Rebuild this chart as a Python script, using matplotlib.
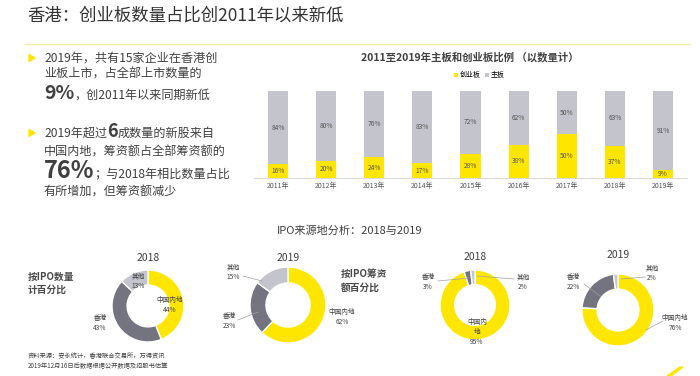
import matplotlib
matplotlib.use("Agg")
import matplotlib.pyplot as plt
from matplotlib.patches import Polygon
import numpy as np

plt.rcParams['font.family'] = ['Noto Sans CJK SC', 'DejaVu Sans']

W, H = 700, 376
YELLOW = "#FFE600"
LGRAY = "#C4C4CD"
DGRAY = "#747480"
TXT = "#333333"

# bar chart data
years = ["2011年", "2012年", "2013年", "2014年", "2015年", "2016年", "2017年", "2018年", "2019年"]
gem = [16, 20, 24, 17, 28, 38, 50, 37, 9]
main = [84, 80, 76, 83, 72, 62, 50, 63, 91]

# donut data: 中国内地, 香港, 其他
donut_names = ["中国内地", "香港", "其他"]
count_2018 = [44, 43, 13]
count_2019 = [62, 23, 15]
amount_2018 = [95, 3, 2]
amount_2019 = [76, 22, 2]


def fx(px):
    return px / W


def fy(py):
    return 1 - py / H


fig = plt.figure(figsize=(7, 3.76), dpi=100)
fig.patch.set_facecolor("white")

# title + yellow rule
fig.text(fx(27), fy(16), "香港：创业板数量占比创2011年以来新低", fontsize=12.5,
         color=TXT, va="center", ha="left")
fig.add_artist(plt.Line2D([fx(25), fx(690)], [fy(44), fy(44)], color="#F6EFA0", lw=1))

renderer = fig.canvas.get_renderer()


def run_line(x, y, pieces):
    # pieces: (text, fontsize, weight)
    cur = x
    for s, size, weight in pieces:
        t = fig.text(fx(cur), fy(y), s, fontsize=size, fontweight=weight, color="#404040",
                     va="baseline", ha="left")
        bb = t.get_window_extent(renderer)
        cur += bb.width


def bullet(y):
    fig.patches.append(Polygon([[fx(29), fy(y - 3.5)], [fx(29), fy(y + 3.5)], [fx(35), fy(y)]],
                               closed=True, color=YELLOW, transform=fig.transFigure))


FS = 8.7
bullet(58)
run_line(44, 62, [("2019年，共有15家企业在香港创", FS, "normal")])
run_line(44, 78, [("业板上市，占全部上市数量的", FS, "normal")])
run_line(44, 99, [("9%", 14, "bold"), ("，创2011年以来同期新低", FS, "normal")])
bullet(133)
run_line(44, 137, [("2019年超过", FS, "normal"), ("6", 13, "bold"), ("成数量的新股来自", FS, "normal")])
run_line(44, 156, [("中国内地，筹资额占全部筹资额的", FS, "normal")])
run_line(44, 178, [("76%", 17, "bold"), ("；与2018年相比数量占比", FS, "normal")])
run_line(44, 196, [("有所增加，但筹资额减少", FS, "normal")])

# bar chart
bx0, bx1, by0, by1 = 254, 687, 91, 178
ax = fig.add_axes([fx(bx0), fy(by1), (bx1 - bx0) / W, (by1 - by0) / H])
x = np.arange(len(years))
ax.bar(x, gem, width=0.42, color=YELLOW, label="创业板")
ax.bar(x, main, width=0.42, bottom=gem, color=LGRAY, label="主板")
for i in range(len(years)):
    ax.text(x[i], gem[i] / 2, f"{gem[i]}%", ha="center", va="center", fontsize=4.8, color="#555555")
    ax.text(x[i], gem[i] + main[i] / 2, f"{main[i]}%", ha="center", va="center", fontsize=4.8,
            color="#555555")
ax.set_xlim(-0.5, len(years) - 0.5)
ax.set_ylim(0, 100)
ax.set_xticks(x)
ax.set_xticklabels(years, fontsize=5, color="#555555")
ax.tick_params(axis="x", length=0, pad=3)
ax.set_yticks([])
for s in ["top", "left", "right"]:
    ax.spines[s].set_visible(False)
ax.spines["bottom"].set_color("#D9D9D9")
ax.spines["bottom"].set_linewidth(0.8)
ax.legend(loc="center", bbox_to_anchor=(0.52, 1.18), ncol=2, frameon=False, fontsize=5,
          handlelength=0.6, handleheight=0.6, handletextpad=0.2, columnspacing=0.6)
fig.text(fx(470), fy(57), "2011至2019年主板和创业板比例 （以数量计）", fontsize=7.5,
         fontweight="bold", color="#404040", ha="center", va="center")

# donut section
fig.text(fx(350), fy(231), "IPO来源地分析：2018与2019", fontsize=8, color="#404040",
         ha="center", va="center")
fig.text(fx(28), fy(283), "按IPO数量\n计百分比", fontsize=7, fontweight="bold", color="#4a4a4a",
         ha="left", va="center", linespacing=1.4)
fig.text(fx(341), fy(281), "按IPO筹资\n额百分比", fontsize=7, fontweight="bold", color="#4a4a4a",
         ha="left", va="center", linespacing=1.4)
fig.text(fx(28), fy(361), "资料来源：安永统计，香港联合交易所，万得资讯\n2019年12月16日后数据根据公开数据及招股书估算",
         fontsize=4.5, color="#404040", ha="left", va="center", linespacing=1.3)


def donut(cx, cy, r, vals, title, ty, labels):
    a = fig.add_axes([fx(cx - r), fy(cy + r), 2 * r / W, 2 * r / H])
    a.pie(vals, colors=[YELLOW, DGRAY, LGRAY], startangle=90, counterclock=False,
          radius=1, wedgeprops=dict(width=0.42, edgecolor="white", linewidth=1))
    a.set_xlim(-1, 1)
    a.set_ylim(-1, 1)
    a.set_aspect("equal")
    a.axis("off")
    fig.text(fx(cx), fy(ty), title, fontsize=7.5, color="#404040", ha="center", va="center")
    for (name, v, lx, ly, line) in labels:
        fig.text(fx(lx), fy(ly), f"{name}\n{v}%", fontsize=4.8, color="#404040",
                 ha="center", va="center", linespacing=1.3)
        if line is not None:
            (x0, y0), (x1, y1) = line
            fig.add_artist(plt.Line2D([fx(x0), fx(x1)], [fy(y0), fy(y1)], color="#A0A0A0", lw=0.5))


donut(148, 306, 36, count_2018, "2018", 258, [
    (donut_names[2], count_2018[2], 138, 281, None),
    (donut_names[0], count_2018[0], 170, 305, None),
    (donut_names[1], count_2018[1], 100, 323, None),
])
donut(288, 305, 38, count_2019, "2019", 258, [
    (donut_names[2], count_2019[2], 233, 272, ((243, 276), (262, 281))),
    (donut_names[1], count_2019[1], 229, 321, ((238, 320), (258, 312))),
    (donut_names[0], count_2019[0], 342, 317, None),
])
donut(475, 305, 35, amount_2018, "2018", 257, [
    (donut_names[1], amount_2018[1], 428, 282, ((438, 281), (469, 278))),
    (donut_names[2], amount_2018[2], 523, 282, ((514, 279), (477, 276))),
    ("中国内\n地", amount_2018[0], 477, 332, None),
])
donut(618, 310, 36, amount_2019, "2019", 255, [
    (donut_names[1], amount_2019[1], 573, 282, ((584, 284), (600, 296))),
    (donut_names[2], amount_2019[2], 652, 273, ((645, 277), (621, 279))),
    (donut_names[0], amount_2019[0], 675, 323, ((663, 321), (646, 330))),
])

# small yellow beam bottom right
fig.patches.append(Polygon([[fx(667), fy(376)], [fx(671), fy(376)], [fx(683), fy(367)], [fx(680), fy(367)]],
                           closed=True, color=YELLOW, transform=fig.transFigure))

fig.savefig("out.png", dpi=100)
